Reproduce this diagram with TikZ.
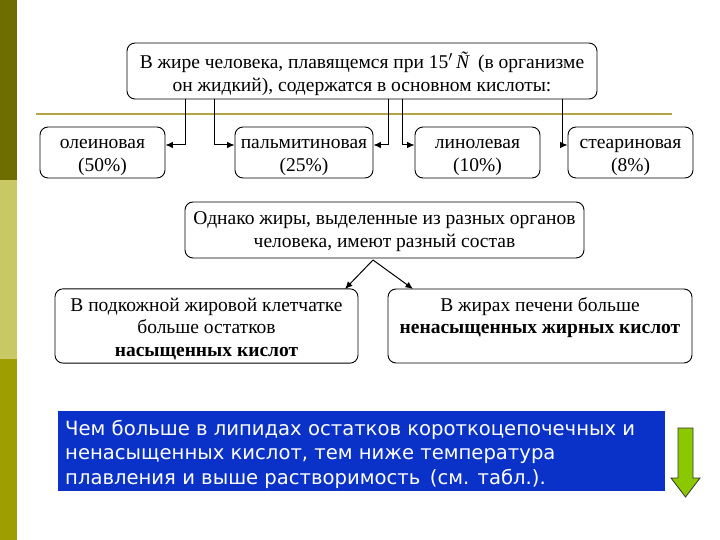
\documentclass[tikz,border=0pt]{standalone}
\usepackage{fontspec}
\setmainfont{Liberation Serif}
\newfontfamily\blufont{DejaVu Sans}
\usetikzlibrary{arrows.meta}
\definecolor{bardark}{HTML}{6E6E00}
\definecolor{barlight}{HTML}{C8C864}
\definecolor{barmid}{HTML}{9E9E00}
\definecolor{goldline}{HTML}{B4A446}
\definecolor{bluebox}{HTML}{0A32C8}
\definecolor{greenarr}{HTML}{8CC800}
\newcommand\fstrut[1]{\rule{0pt}{#1}}
\tikzset{
  rbox/.style={draw=black, line width=0.9pt, rounded corners=8pt, align=center, inner sep=0pt, font=\fontsize{19.5}{22.5}\selectfont},
  conn/.style={draw=black, line width=1pt, -{Latex[length=7.5pt,width=6.5pt]}},
}
\begin{document}
\begin{tikzpicture}[x=1pt,y=-1pt]
\useasboundingbox (0,0) rectangle (720,540);
\fill[white] (0,0) rectangle (720,540);
% left bar
\fill[bardark] (0,0) rectangle (17,180);
\fill[barlight] (0,180) rectangle (17,359);
\fill[barmid] (0,359) rectangle (17,540);
% gold line
\draw[goldline, line width=2pt] (36,114) -- (672,114);
% top box
\node[rbox, minimum width=470pt, minimum height=56pt] (top) at (362,71) {\fstrut{24.5pt}В жире человека, плавящемся при 15$^{\prime}$\,\textit{Ñ} \,(в организме\\\strut он жидкий), содержатся в основном кислоты:};
% acid boxes
\node[rbox, minimum width=125pt, minimum height=51pt] (ol) at (102.5,152.5) {\fstrut{21.5pt}олеиновая\\\strut(50\%)};
\node[rbox, minimum width=138pt, minimum height=51pt] (pa) at (304,152.5) {\fstrut{21.5pt}пальмитиновая\\\strut(25\%)};
\node[rbox, minimum width=125pt, minimum height=51pt] (li) at (477.5,152.5) {\fstrut{21.5pt}линолевая\\\strut(10\%)};
\node[rbox, minimum width=125pt, minimum height=51pt] (st) at (630.5,152.5) {\fstrut{21.5pt}стеариновая\\\strut(8\%)};
\coordinate (t1) at (185,99);
\coordinate (t2) at (214,99);
\coordinate (t3) at (388,99);
\coordinate (t4) at (402,99);
\coordinate (t5) at (562,99);
\draw[conn] (t1) |- (ol.east |- 0,145);
\draw[conn] (t2) |- (pa.west |- 0,145);
\draw[conn] (t3) |- (pa.east |- 0,145);
\draw[conn] (t4) |- (li.west |- 0,145);
\draw[conn] (t5) |- (st.west |- 0,145);
% middle box
\node[rbox, minimum width=399pt, minimum height=56pt] (mid) at (384.5,230) {\fstrut{19pt}Однако жиры, выделенные из разных органов\\\strut человека, имеют разный состав};
\coordinate (m0) at (373,260);
% bottom boxes
\node[rbox, minimum width=303pt, minimum height=74pt] (lb) at (206.5,326) {\fstrut{22.5pt}В подкожной жировой клетчатке\\\strut больше остатков\\\strut\textbf{насыщенных кислот}};
\node[rbox, minimum width=304pt, minimum height=74pt] (rb) at (540,326) {\fstrut{22pt}В жирах печени больше\\\strut\textbf{ненасыщенных жирных кислот}\\\strut};
\coordinate (lbt) at (345,289);
\coordinate (rbt) at (413,289);
\draw[conn] (m0) -- (lbt);
\draw[conn] (m0) -- (rbt);
% blue box
\node[fill=bluebox, minimum width=607pt, minimum height=80pt, inner sep=0pt] (blue) at (361.5,451) {};
\node[anchor=north west, align=left, text=white, inner sep=0pt, font=\blufont\fontsize{19.6}{24.5}\selectfont] (btxt) at (65,420) {Чем больше в липидах остатков короткоцепочечных и\\ненасыщенных кислот, тем ниже температура\\плавления и выше растворимость \,(см. табл.).};
% green arrow
\draw[fill=greenarr, draw=black!80, line width=0.8pt] (678,428) -- (693,428) -- (693,478) -- (700,478) -- (685.5,497) -- (671,478) -- (678,478) -- cycle;
\end{tikzpicture}
\end{document}
